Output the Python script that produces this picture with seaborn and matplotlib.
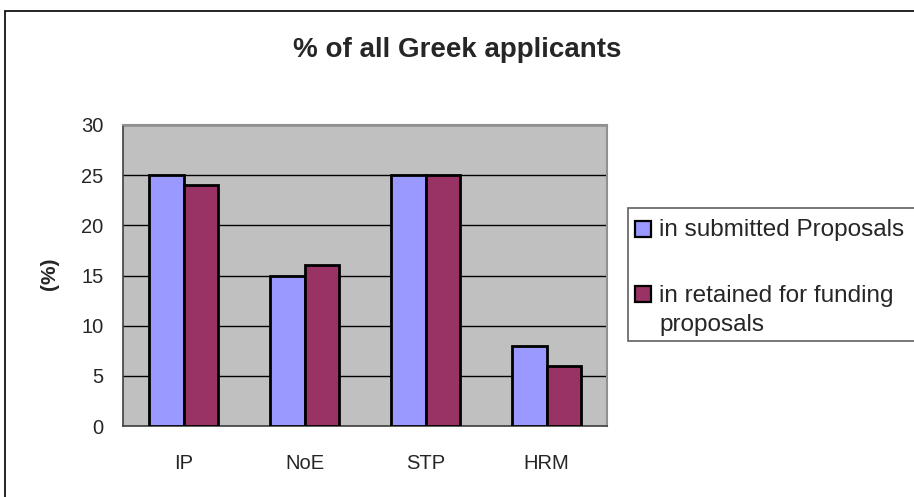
import numpy as np
import pandas as pd
import matplotlib
matplotlib.use("Agg")
import matplotlib.pyplot as plt
import seaborn as sns
from matplotlib.patches import Rectangle

categories = ["IP", "NoE", "STP", "HRM"]
submitted = [25, 15, 25, 8]
retained = [24, 16, 25, 6]
series_names = ["in submitted Proposals", "in retained for funding\nproposals"]
colors = ["#9999FF", "#993366"]

df = pd.DataFrame({
    "category": categories * 2,
    "value": submitted + retained,
    "series": [series_names[0]] * 4 + [series_names[1]] * 4,
})

sns.set_style("white")
plt.rcParams["font.family"] = ["Liberation Sans", "DejaVu Sans"]

W, H = 914, 497
fig = plt.figure(figsize=(W / 100, H / 100), dpi=100)
ax = fig.add_axes([123 / W, 1 - 426 / H, 484 / W, 301 / H])

sns.barplot(data=df, x="category", y="value", hue="series", palette=colors,
            saturation=1, width=0.57, edgecolor="black", linewidth=2,
            ax=ax, legend=False, zorder=3)

ax.set_facecolor("#C0C0C0")
ax.set_ylim(0, 30)
ax.set_xlim(-0.5, 3.5)
ax.set_yticks(range(0, 31, 5))
ax.yaxis.grid(True, color="black", linewidth=1)
ax.set_axisbelow(True)

# tick marks between categories, labels under the groups
ax.set_xticks([-0.5, 0.5, 1.5, 2.5, 3.5])
ax.set_xticklabels([])
ax.set_xticks(range(4), minor=True)
ax.set_xticklabels(categories, minor=True)
ax.tick_params(axis="x", which="major", length=6, direction="out", color="#404040", width=1)
ax.tick_params(axis="x", which="minor", length=0, pad=20, labelsize=14.5)
ax.tick_params(axis="y", length=6, direction="out", color="#404040", width=1,
               labelsize=14.5, pad=8)
ax.set_xlabel("")
ax.set_ylabel("(%)", fontsize=15, fontweight="bold")
ax.yaxis.set_label_coords(-0.133, 0.505)

for side in ["top", "right"]:
    ax.spines[side].set_color("#909090")
    ax.spines[side].set_linewidth(1.5)
for side in ["left", "bottom"]:
    ax.spines[side].set_color("#404040")
    ax.spines[side].set_linewidth(1.2)

fig.text(0.5, 1 - 57 / H, "% of all Greek applicants", ha="center", va="baseline",
         fontsize=20, fontweight="bold")

# legend box (runs off the right edge like the original)
fig.patches.append(Rectangle((628 / W, 1 - 341 / H), 320 / W, 133 / H,
                             transform=fig.transFigure, facecolor="white",
                             edgecolor="#606060", linewidth=1.2))
marker_tops = [221, 286]
baselines = [[236], [302, 331]]
for name, color, top, bases in zip(series_names, colors, marker_tops, baselines):
    fig.patches.append(Rectangle((635 / W, 1 - (top + 16) / H), 16 / W, 16 / H,
                                 transform=fig.transFigure, facecolor=color,
                                 edgecolor="black", linewidth=1.6))
    for line, b in zip(name.split("\n"), bases):
        fig.text(659 / W, 1 - b / H, line, ha="left", va="baseline", fontsize=17.5)

# outer chart border
fig.patches.append(Rectangle((5 / W, -0.1), 1.2, 1 - 11 / H + 0.1,
                             transform=fig.transFigure, fill=False,
                             edgecolor="black", linewidth=1.2))

fig.savefig("out.png", dpi=100, facecolor="white")
